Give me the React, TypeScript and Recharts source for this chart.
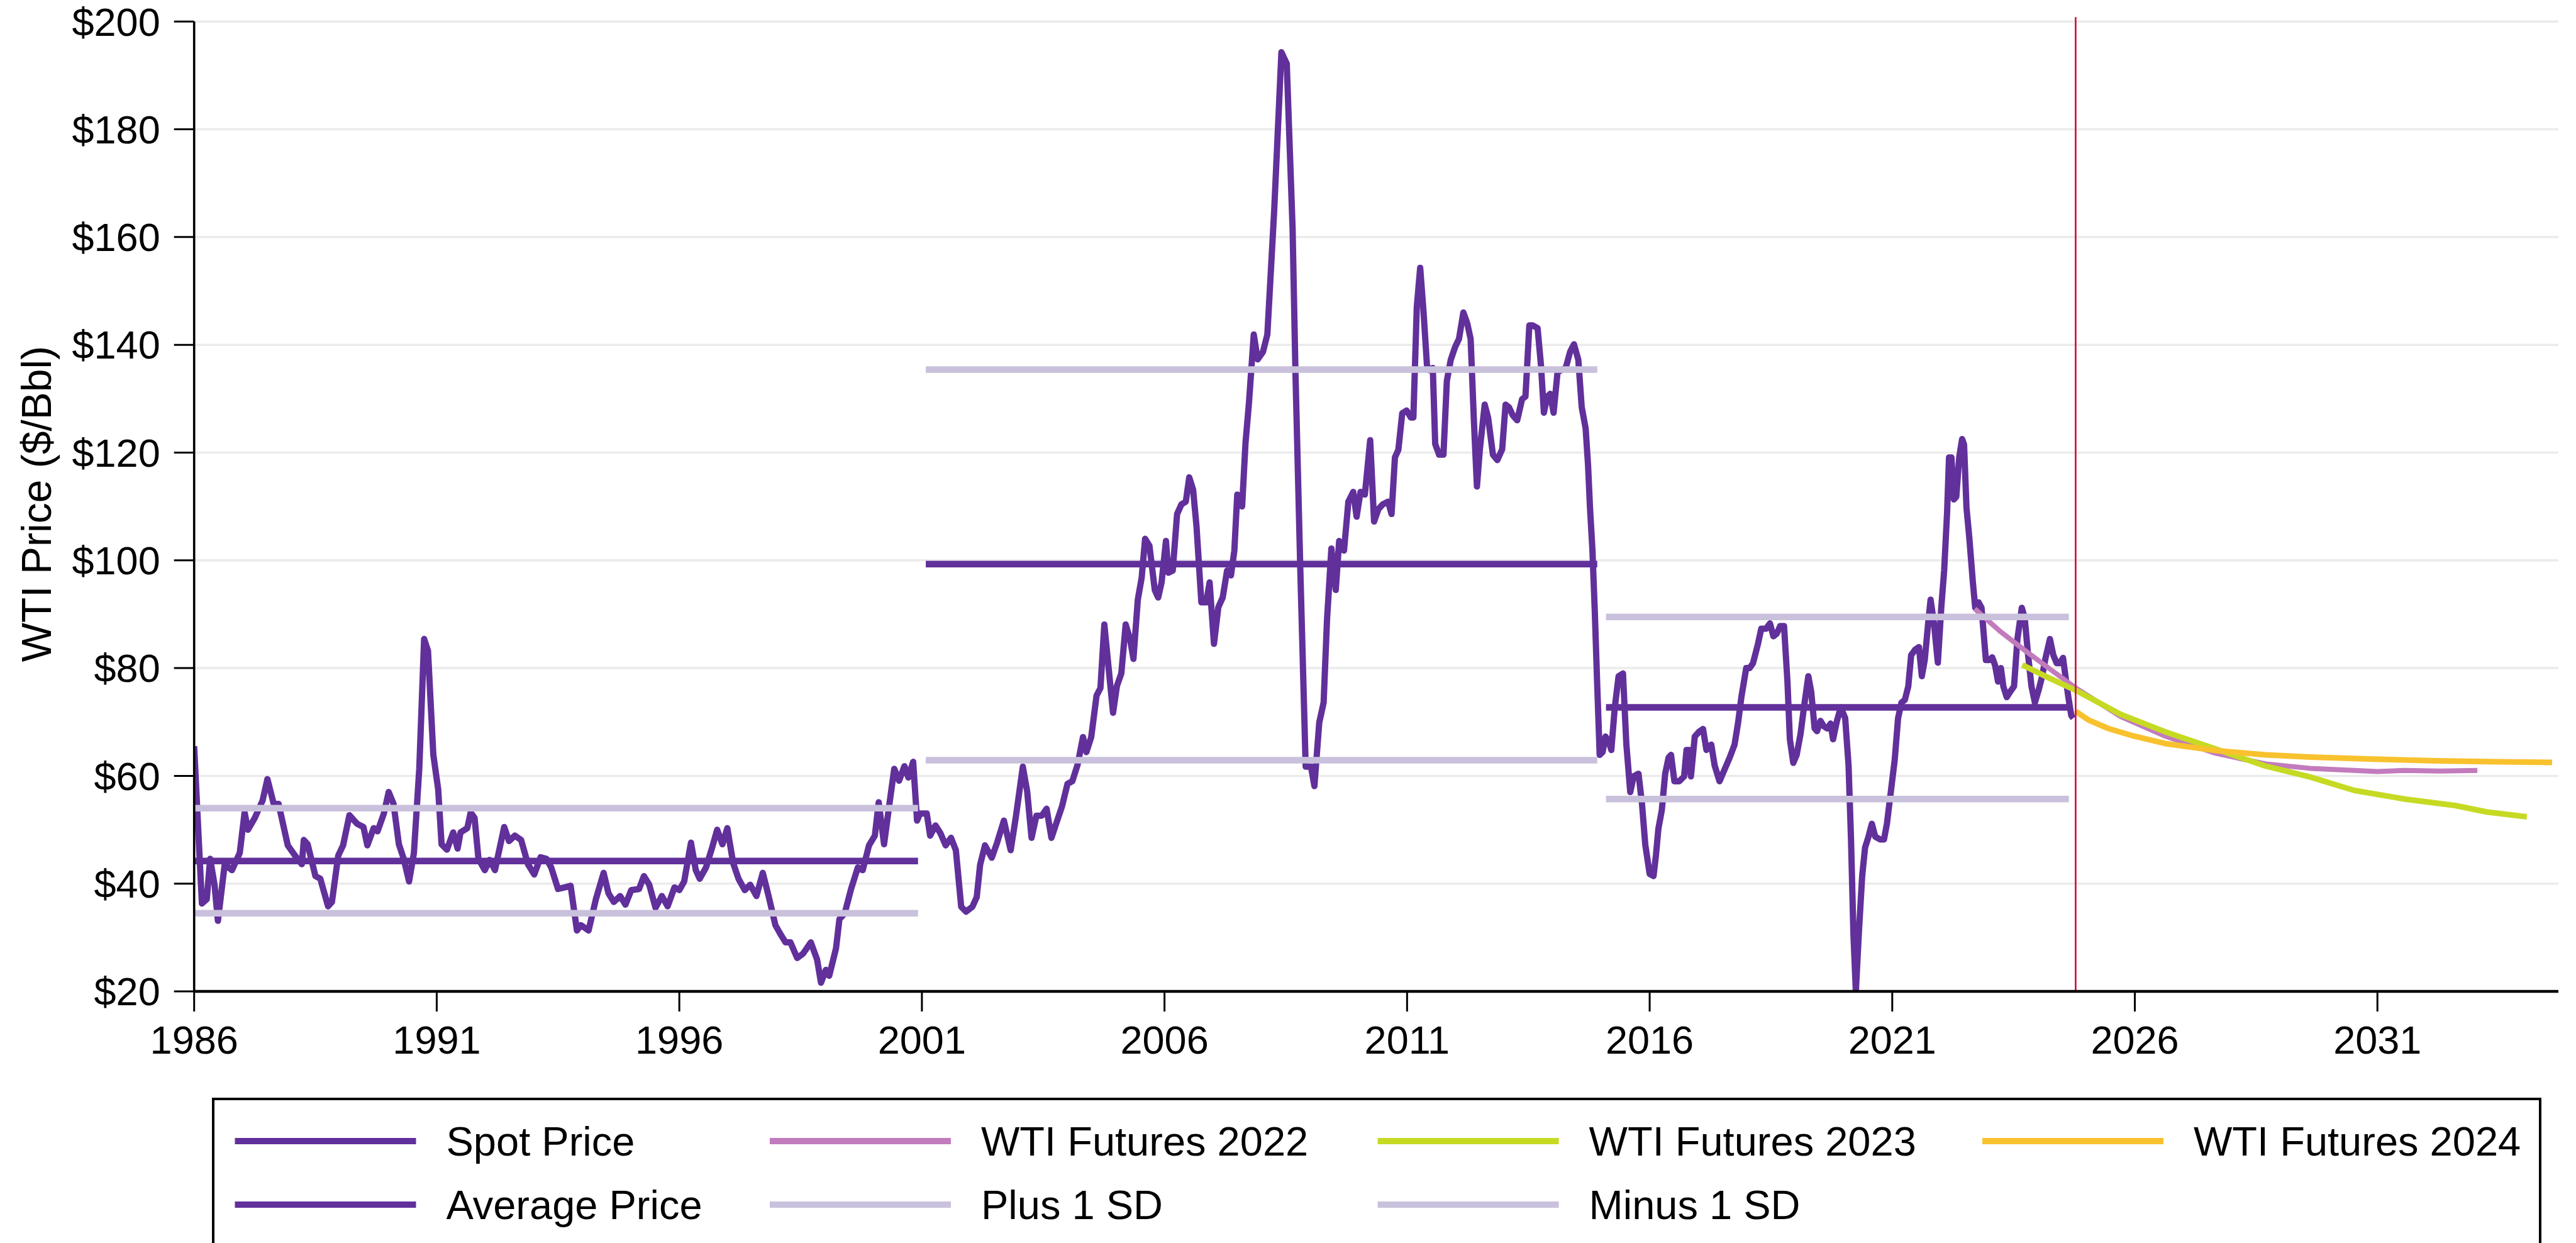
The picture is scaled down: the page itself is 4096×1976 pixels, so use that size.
import React from 'react';
import { LineChart, Line, XAxis, YAxis, CartesianGrid, ReferenceLine, Label } from 'recharts';

const FONT = '"Liberation Sans", Arial, Helvetica, sans-serif';

const xTicks = [1986, 1991, 1996, 2001, 2006, 2011, 2016, 2021, 2026, 2031];
const yTicks = [20, 40, 60, 80, 100, 120, 140, 160, 180, 200];
const yAxisTitle = 'WTI Price ($/Bbl)';

// [year, real $/Bbl]
const spotPrice: [number, number][] = [
  [1986.0, 65.5], [1986.16, 36.3], [1986.26, 37.1], [1986.33, 44.6], [1986.42, 39.8], [1986.49, 33.1],
  [1986.63, 43.6], [1986.78, 42.5], [1986.94, 45.7], [1987.04, 53.2], [1987.11, 50.0], [1987.25, 52.2],
  [1987.41, 55.4], [1987.51, 59.4], [1987.64, 54.8], [1987.74, 54.8], [1987.93, 47.1], [1988.08, 45.2],
  [1988.22, 43.6], [1988.26, 48.1], [1988.34, 47.3], [1988.5, 41.4], [1988.6, 40.9], [1988.76, 35.8],
  [1988.84, 36.6], [1988.97, 45.2], [1989.07, 47.1], [1989.2, 52.7], [1989.36, 51.1], [1989.49, 50.5],
  [1989.57, 47.1], [1989.7, 50.3], [1989.78, 49.7], [1989.91, 53.0], [1990.01, 57.0], [1990.11, 54.8],
  [1990.22, 47.3], [1990.32, 44.6], [1990.43, 40.4], [1990.53, 45.7], [1990.64, 61.3], [1990.74, 85.4],
  [1990.82, 83.2], [1990.93, 63.9], [1991.03, 57.5], [1991.1, 47.3], [1991.21, 46.3], [1991.34, 49.5],
  [1991.43, 46.5], [1991.49, 49.5], [1991.63, 50.3], [1991.7, 53.2], [1991.78, 52.2], [1991.86, 44.6],
  [1991.99, 42.5], [1992.09, 44.4], [1992.2, 42.5], [1992.39, 50.5], [1992.49, 47.9], [1992.61, 48.9],
  [1992.74, 48.1], [1992.88, 43.6], [1993.01, 41.7], [1993.14, 44.9], [1993.26, 44.6], [1993.36, 43.0],
  [1993.5, 39.0], [1993.64, 39.3], [1993.76, 39.6], [1993.89, 31.3], [1993.97, 32.3], [1994.13, 31.3],
  [1994.28, 37.1], [1994.44, 42.0], [1994.54, 38.2], [1994.65, 36.6], [1994.78, 37.7], [1994.89, 36.1],
  [1995.01, 38.8], [1995.17, 39.0], [1995.27, 41.4], [1995.38, 39.8], [1995.51, 35.5], [1995.64, 37.7],
  [1995.76, 35.8], [1995.9, 39.3], [1996.0, 38.8], [1996.1, 40.4], [1996.24, 47.6], [1996.34, 42.5],
  [1996.42, 40.9], [1996.55, 43.0], [1996.68, 46.8], [1996.78, 50.0], [1996.89, 47.3], [1996.99, 50.3],
  [1997.11, 43.8], [1997.22, 40.9], [1997.35, 38.8], [1997.46, 39.8], [1997.59, 37.7], [1997.72, 42.0],
  [1997.84, 37.7], [1997.98, 32.3], [1998.08, 30.7], [1998.19, 29.1], [1998.29, 29.1], [1998.43, 26.2],
  [1998.55, 27.0], [1998.71, 29.1], [1998.84, 25.9], [1998.92, 21.6], [1999.02, 24.0], [1999.09, 22.9],
  [1999.23, 28.0], [1999.3, 33.4], [1999.41, 34.5], [1999.54, 39.0], [1999.68, 43.0], [1999.78, 42.5],
  [1999.91, 47.1], [2000.03, 48.9], [2000.11, 55.1], [2000.22, 47.3], [2000.34, 55.4], [2000.43, 61.3],
  [2000.53, 59.1], [2000.64, 61.8], [2000.72, 59.7], [2000.82, 62.6], [2000.9, 51.7], [2000.96, 53.0],
  [2001.1, 53.0], [2001.17, 48.9], [2001.28, 50.8], [2001.38, 49.4], [2001.49, 47.1], [2001.6, 48.5],
  [2001.7, 46.2], [2001.81, 35.7], [2001.91, 34.8], [2002.04, 35.7], [2002.13, 37.5], [2002.2, 43.5],
  [2002.3, 47.1], [2002.44, 44.8], [2002.55, 47.6], [2002.69, 51.7], [2002.83, 46.2], [2002.94, 52.6],
  [2003.08, 61.7], [2003.17, 57.1], [2003.26, 48.5], [2003.36, 52.6], [2003.47, 52.6], [2003.57, 53.9],
  [2003.67, 48.5], [2003.77, 51.2], [2003.89, 54.4], [2004.0, 58.5], [2004.1, 59.0], [2004.21, 62.1],
  [2004.32, 67.2], [2004.39, 64.4], [2004.49, 67.2], [2004.6, 74.9], [2004.68, 76.3], [2004.76, 88.1],
  [2004.85, 79.9], [2004.94, 71.7], [2005.02, 76.7], [2005.11, 79.0], [2005.2, 88.1], [2005.29, 85.4],
  [2005.36, 81.7], [2005.45, 92.7], [2005.53, 96.8], [2005.6, 104.0], [2005.69, 102.7], [2005.8, 94.5],
  [2005.87, 93.1], [2005.94, 95.9], [2006.03, 103.6], [2006.08, 97.7], [2006.17, 98.1], [2006.26, 108.6],
  [2006.35, 110.4], [2006.44, 110.9], [2006.51, 115.4], [2006.59, 113.1], [2006.66, 106.3], [2006.76, 92.2],
  [2006.86, 92.2], [2006.93, 95.9], [2007.02, 84.5], [2007.11, 91.3], [2007.2, 93.1], [2007.29, 98.1],
  [2007.37, 97.2], [2007.44, 101.8], [2007.5, 112.2], [2007.6, 110.0], [2007.67, 121.8], [2007.74, 129.1],
  [2007.84, 141.9], [2007.92, 137.3], [2008.03, 138.7], [2008.12, 141.9], [2008.26, 164.7], [2008.41, 194.3],
  [2008.52, 192.2], [2008.64, 161.7], [2008.7, 134.6], [2008.8, 98.1], [2008.91, 61.7], [2009.02, 61.7],
  [2009.09, 58.1], [2009.19, 69.9], [2009.28, 73.6], [2009.35, 89.0], [2009.44, 102.2], [2009.53, 94.5],
  [2009.6, 103.6], [2009.7, 101.8], [2009.79, 110.9], [2009.89, 112.7], [2009.96, 108.1], [2010.04, 112.7],
  [2010.13, 112.2], [2010.24, 122.3], [2010.32, 107.2], [2010.41, 109.5], [2010.5, 110.4], [2010.61, 110.9],
  [2010.68, 108.6], [2010.75, 119.1], [2010.82, 120.5], [2010.9, 127.3], [2010.99, 127.8], [2011.08, 126.5],
  [2011.13, 126.5], [2011.2, 147.0], [2011.27, 154.3], [2011.34, 146.0], [2011.41, 136.2], [2011.46, 135.3],
  [2011.53, 135.7], [2011.58, 121.6], [2011.66, 119.6], [2011.75, 119.6], [2011.82, 133.3], [2011.9, 137.2],
  [2011.99, 139.6], [2012.07, 141.1], [2012.16, 146.0], [2012.24, 144.0], [2012.31, 141.1], [2012.38, 125.4],
  [2012.44, 113.7], [2012.5, 120.6], [2012.6, 128.9], [2012.67, 126.5], [2012.77, 119.6], [2012.86, 118.6],
  [2012.96, 120.6], [2013.03, 128.9], [2013.1, 128.4], [2013.18, 126.9], [2013.27, 126.0], [2013.37, 129.9],
  [2013.44, 130.4], [2013.52, 143.6], [2013.59, 143.6], [2013.69, 143.1], [2013.76, 136.2], [2013.82, 127.4],
  [2013.89, 130.4], [2013.95, 130.9], [2014.02, 127.4], [2014.1, 134.8], [2014.17, 135.3], [2014.27, 135.7],
  [2014.36, 138.7], [2014.44, 140.1], [2014.53, 137.2], [2014.6, 128.4], [2014.68, 124.5], [2014.73, 117.7],
  [2014.77, 109.8], [2014.82, 102.0], [2014.87, 90.3], [2014.92, 76.6], [2014.97, 63.9], [2015.03, 64.4],
  [2015.09, 67.3], [2015.16, 66.3], [2015.21, 64.8], [2015.28, 72.6], [2015.36, 78.5], [2015.45, 79.0],
  [2015.52, 65.8], [2015.6, 57.0], [2015.67, 59.9], [2015.77, 60.4], [2015.84, 55.0], [2015.91, 47.2],
  [2016.0, 41.8], [2016.08, 41.4], [2016.13, 45.3], [2016.18, 50.2], [2016.25, 53.6], [2016.32, 60.4],
  [2016.39, 63.4], [2016.44, 63.9], [2016.51, 59.0], [2016.61, 59.0], [2016.71, 59.9], [2016.76, 64.8],
  [2016.81, 64.8], [2016.85, 59.9], [2016.93, 67.3], [2017.02, 68.2], [2017.1, 68.7], [2017.17, 64.8],
  [2017.27, 65.8], [2017.34, 61.9], [2017.44, 59.0], [2017.53, 60.9], [2017.65, 63.4], [2017.75, 65.8],
  [2017.82, 69.7], [2017.89, 74.6], [2017.99, 80.0], [2018.06, 80.0], [2018.13, 80.9], [2018.23, 84.4],
  [2018.3, 87.3], [2018.4, 87.3], [2018.48, 88.3], [2018.55, 85.9], [2018.62, 86.4], [2018.69, 87.8],
  [2018.77, 87.8], [2018.84, 77.5], [2018.89, 66.8], [2018.96, 62.4], [2019.03, 63.9], [2019.11, 67.8],
  [2019.18, 72.7], [2019.27, 78.5], [2019.33, 75.6], [2019.4, 68.8], [2019.45, 68.3], [2019.52, 70.2],
  [2019.59, 69.2], [2019.66, 68.8], [2019.73, 69.7], [2019.78, 66.8], [2019.86, 70.2], [2019.94, 72.7],
  [2020.03, 70.7], [2020.1, 61.9], [2020.15, 48.2], [2020.2, 30.6], [2020.25, 20.0], [2020.31, 30.6],
  [2020.38, 41.4], [2020.44, 46.7], [2020.51, 48.7], [2020.58, 51.1], [2020.65, 48.7], [2020.75, 48.2],
  [2020.83, 48.2], [2020.89, 51.1], [2020.97, 57.0], [2021.05, 62.9], [2021.12, 70.7], [2021.19, 73.6],
  [2021.26, 74.1], [2021.33, 76.6], [2021.39, 82.4], [2021.47, 83.4], [2021.55, 83.9], [2021.61, 78.5],
  [2021.67, 81.5], [2021.74, 88.3], [2021.79, 92.7], [2021.86, 88.3], [2021.94, 81.0], [2022.01, 91.2],
  [2022.07, 98.1], [2022.13, 108.8], [2022.17, 119.1], [2022.22, 119.1], [2022.27, 111.3], [2022.32, 111.8],
  [2022.38, 119.1], [2022.44, 122.5], [2022.48, 121.5], [2022.53, 109.8], [2022.59, 104.0], [2022.66, 96.1],
  [2022.71, 91.2], [2022.78, 92.2], [2022.84, 91.2], [2022.93, 81.5], [2023.0, 81.5], [2023.06, 82.0],
  [2023.12, 80.5], [2023.18, 77.5], [2023.24, 80.0], [2023.29, 76.6], [2023.36, 74.6], [2023.43, 75.6],
  [2023.51, 76.6], [2023.58, 85.4], [2023.67, 91.2], [2023.73, 89.3], [2023.8, 82.4], [2023.87, 76.6],
  [2023.94, 73.6], [2024.02, 76.0], [2024.09, 78.5], [2024.16, 81.9], [2024.25, 85.4], [2024.32, 82.4],
  [2024.39, 80.9], [2024.45, 80.9], [2024.52, 81.9], [2024.57, 78.5], [2024.63, 74.6], [2024.69, 71.2],
  [2024.73, 70.7],
];

const periodStart = [1986.0, 2001.08, 2015.1];
const periodEnd = [2000.92, 2014.92, 2024.64];
const averagePrice = [44.2, 99.3, 72.7];
const plusOneSD = [54.0, 135.4, 89.5];
const minusOneSD = [34.5, 62.9, 55.7];

const futures2022: [number, number][] = [
  [2022.7, 91.0], [2023.24, 86.7], [2023.76, 83.1], [2024.3, 79.5], [2024.8, 76.2], [2025.71, 71.0],
  [2026.62, 67.4], [2027.66, 64.2], [2028.7, 62.2], [2029.61, 61.4], [2030.52, 61.0], [2031.0, 60.8],
  [2031.56, 61.0], [2032.3, 60.9], [2033.06, 61.0],
];
const futures2023: [number, number][] = [
  [2023.68, 80.6], [2024.2, 78.3], [2024.8, 75.8], [2025.71, 71.4], [2026.62, 68.2], [2027.66, 65.0],
  [2028.7, 61.8], [2029.61, 59.8], [2030.52, 57.3], [2031.56, 55.7], [2032.6, 54.5], [2033.25, 53.3],
  [2034.08, 52.4],
];
const futures2024: [number, number][] = [
  [2024.78, 72.0], [2025.04, 70.4], [2025.45, 68.8], [2025.97, 67.4], [2026.62, 66.0], [2027.66, 64.7],
  [2028.7, 63.9], [2029.61, 63.5], [2030.91, 63.1], [2032.21, 62.8], [2033.51, 62.6], [2034.6, 62.5],
];
const forecastDate = 2024.78;

const C_SPOT = '#61309b';
const C_SD = '#c9c1dc';
const C_F22 = '#c27bbd';
const C_F23 = '#c6da24';
const C_F24 = '#f8c12e';
const C_RED = '#cd1141';

type Pt = { x: number; y: number | null };
const toPoints = (pairs: [number, number][]): Pt[] => pairs.map(([x, y]) => ({ x, y }));
const toSegments = (levels: number[]): Pt[] => {
  const out: Pt[] = [];
  levels.forEach((v, i) => {
    if (i > 0) out.push({ x: (periodEnd[i - 1] + periodStart[i]) / 2, y: null });
    out.push({ x: periodStart[i], y: v });
    out.push({ x: periodEnd[i], y: v });
  });
  return out;
};

const spotData = toPoints(spotPrice);
const avgData = toSegments(averagePrice);
const plusData = toSegments(plusOneSD);
const minusData = toSegments(minusOneSD);
const f22Data = toPoints(futures2022);
const f23Data = toPoints(futures2023);
const f24Data = toPoints(futures2024);

const legendItems = [
  { label: 'Spot Price', color: C_SPOT, col: 0, row: 0 },
  { label: 'Average Price', color: C_SPOT, col: 0, row: 1 },
  { label: 'WTI Futures 2022', color: C_F22, col: 1, row: 0 },
  { label: 'Plus 1 SD', color: C_SD, col: 1, row: 1 },
  { label: 'WTI Futures 2023', color: C_F23, col: 2, row: 0 },
  { label: 'Minus 1 SD', color: C_SD, col: 2, row: 1 },
  { label: 'WTI Futures 2024', color: C_F24, col: 3, row: 0 },
];
const legendColX = [373.5, 1224, 2190.6, 3152];
const legendRowY = [1814, 1915];

const W = 4096;
const H = 1976;

export default function App() {
  const lineCommon = {
    type: 'linear' as const,
    dataKey: 'y',
    dot: false,
    activeDot: false,
    isAnimationActive: false,
    connectNulls: false,
  };
  return (
    <div style={{ position: 'absolute', left: 0, top: 0, width: W, height: H, background: '#fff', overflow: 'hidden' }}>
      <LineChart width={W} height={H} margin={{ top: 34.2, right: 28, bottom: 0, left: 0 }}>
        <CartesianGrid vertical={false} stroke="#ebebeb" strokeWidth={3.5} />
        <XAxis
          type="number"
          dataKey="x"
          domain={[1986, 2034.73]}
          ticks={xTicks}
          interval={0}
          allowDataOverflow
          height={400}
          tickSize={32}
          tickMargin={22}
          axisLine={{ stroke: '#000', strokeWidth: 4.5 }}
          tickLine={{ stroke: '#000', strokeWidth: 3 }}
          tick={{ fill: '#000', fontSize: 63, fontFamily: FONT }}
        />
        <YAxis
          type="number"
          domain={[20, 200]}
          ticks={yTicks}
          interval={0}
          allowDataOverflow
          width={308.7}
          tickSize={32}
          tickMargin={22}
          tickFormatter={(v: number) => `$${v}`}
          axisLine={{ stroke: '#000', strokeWidth: 3.6 }}
          tickLine={{ stroke: '#000', strokeWidth: 3 }}
          tick={{ fill: '#000', fontSize: 63, fontFamily: FONT }}
        >
          <Label
            content={(props: any) => {
              const vb = props.viewBox || { y: 34, height: 1542 };
              const cy = vb.y + vb.height / 2 - 4;
              return (
                <text
                  x={81}
                  y={cy}
                  transform={`rotate(-90, 81, ${cy})`}
                  textAnchor="middle"
                  fontSize={66}
                  fontFamily={FONT}
                  fill="#000"
                >
                  {yAxisTitle}
                </text>
              );
            }}
          />
        </YAxis>
        <Line {...lineCommon} data={spotData} stroke={C_SPOT} strokeWidth={10} strokeLinejoin="round" name="Spot Price" />
        <Line {...lineCommon} data={avgData} stroke={C_SPOT} strokeWidth={10.5} name="Average Price" />
        <Line {...lineCommon} data={f22Data} stroke={C_F22} strokeWidth={8} strokeLinejoin="round" name="WTI Futures 2022" />
        <Line {...lineCommon} data={plusData} stroke={C_SD} strokeWidth={10.5} name="Plus 1 SD" />
        <Line {...lineCommon} data={f23Data} stroke={C_F23} strokeWidth={9} strokeLinejoin="round" name="WTI Futures 2023" />
        <Line {...lineCommon} data={minusData} stroke={C_SD} strokeWidth={10.5} name="Minus 1 SD" />
        <Line {...lineCommon} data={f24Data} stroke={C_F24} strokeWidth={9} strokeLinejoin="round" name="WTI Futures 2024" />
        <ReferenceLine
          segment={[{ x: forecastDate, y: 20 }, { x: forecastDate, y: 200.8 }]}
          stroke={C_RED}
          strokeWidth={2.7}
          ifOverflow="visible"
        />
      </LineChart>
      <svg width={W} height={H} style={{ position: 'absolute', left: 0, top: 0, pointerEvents: 'none' }}>
        <rect x={339} y={1747} width={3700} height={400} fill="none" stroke="#000" strokeWidth={4} />
        {legendItems.map((it) => {
          const x0 = legendColX[it.col];
          const cy = legendRowY[it.row];
          return (
            <g key={it.label}>
              <line x1={x0} x2={x0 + 288} y1={cy} y2={cy} stroke={it.color} strokeWidth={10} />
              <text x={x0 + 336} y={cy + 23} fontSize={65} fontFamily={FONT} fill="#000">
                {it.label}
              </text>
            </g>
          );
        })}
      </svg>
    </div>
  );
}
